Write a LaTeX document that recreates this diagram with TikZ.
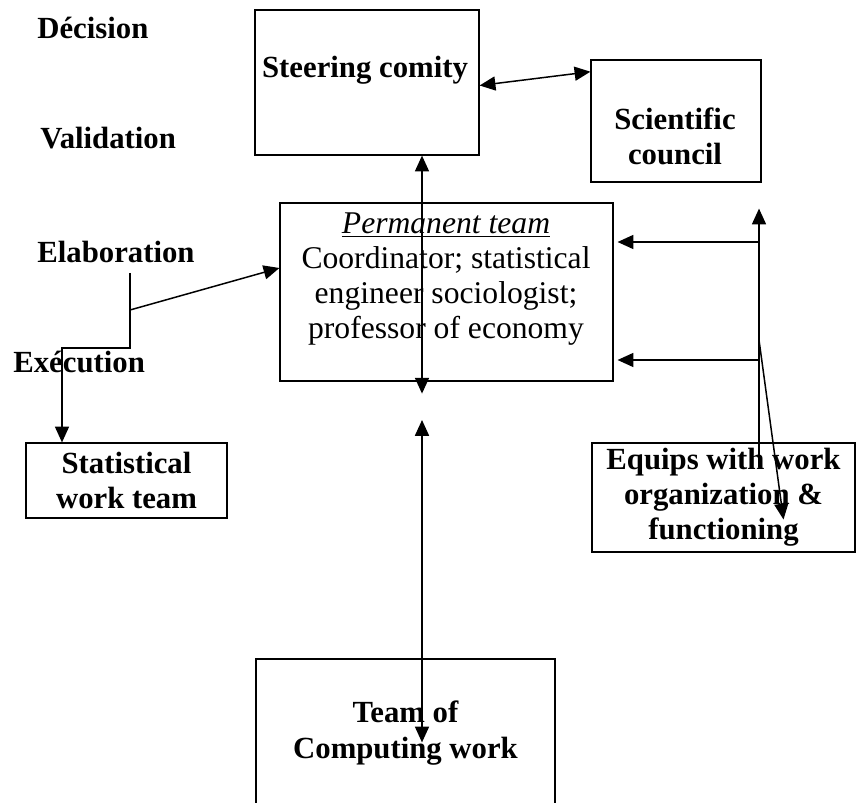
\documentclass[tikz,border=0pt]{standalone}
\usepackage{fontspec}
\setmainfont{Liberation Serif}
\usepackage{tikz}
\usetikzlibrary{arrows.meta}
\usetikzlibrary{calc}
\tikzstyle{every node}+=[inner sep=0pt]
\tikzstyle{block} = [rectangle, draw, line width=0.7pt]
\tikzstyle{btext} = [font=\fontsize{17.5}{20}\selectfont\bfseries, align=center]
\tikzstyle{ptext} = [font=\fontsize{18}{19.8}\selectfont, align=center]
\tikzstyle{phase} = [font=\fontsize{17.5}{20}\selectfont\bfseries, anchor=west]
\tikzstyle{line} = [draw, line width=0.85pt, -{Triangle[length=9pt,width=8pt]}]
\tikzstyle{dline} = [draw, line width=0.85pt, {Triangle[length=9pt,width=8pt]}-{Triangle[length=9pt,width=8pt]}]

\begin{document}
\begin{tikzpicture}[x=0.02cm, y=-0.02cm]
            \useasboundingbox (0,0) rectangle (857,803);
            % Place phases
            \node [phase] (dec) at (37,28) {Décision};
            \node [phase] (val) at (40,138) {Validation};
            \node [phase] (ela) at (37,252) {Elaboration};
            \node [phase] (exe) at (13,362) {Exécution};
            % Place nodes
            \node [block, minimum width=4.48cm, minimum height=2.9cm] (steer) at (367,82.5) {};
            \node [btext] (steert) at (365,70) {Steering comity};
            \node [block, minimum width=3.4cm, minimum height=2.44cm] (sci) at (676,121) {};
            \node [btext] (scit) at (675,136) {Scientific\\council};
            \node [block, minimum width=6.66cm, minimum height=3.56cm] (perm) at (446.5,292) {};
            \node [ptext] (permt) at (446,279) {\underline{\textit{Permanent team}}\\Coordinator; statistical\\engineer sociologist;\\professor of economy};
            \node [block, btext, minimum width=4.02cm, minimum height=1.5cm] (stat) at (126.5,480.5) {Statistical\\work team};
            \node [block, btext, minimum width=5.26cm, minimum height=2.18cm] (equ) at (723.5,497.5) {Equips with work\\organization \&\\functioning};
            \node [block, btext, minimum width=5.98cm, minimum height=2.96cm] (comp) at (405.5,733) {Team of\\Computing work};
            % Junctions
            \coordinate (axis) at (422,0);
            \coordinate (gap) at (422,420);
            \coordinate (spine) at (759,0);
            \coordinate (r1) at (759,242);
            \coordinate (r2) at (759,360);
            \coordinate (r3) at (759,340);
            \coordinate (top) at (130,273);
            \coordinate (fork) at (130,310);
            \coordinate (bend) at (130,348);
            % Draw edges
            \path [dline] ($(steer.east)+(0,3)$) -- ($(sci.north west)!0.1!(sci.south west)$);
            \path [dline] (steer.south -| axis) -- ($(perm.south -| axis)+(0,12)$);
            \path [dline] (gap) -- ($(comp.north -| axis)+(0,84)$);
            \path [line] (top) -- (bend) -| ($(stat.north)+(-64.5,0)$);
            \path [line] (fork) -- ($(perm.west)+(0,-24)$);
            \path [line] ($(equ.north -| spine)+(0,25)$) -- ($(sci.south -| spine)+(0,26)$);
            \path [line] (r1) -- ($(perm.east |- r1)+(4,0)$);
            \path [line] (r2) -- ($(perm.east |- r2)+(4,0)$);
            \path [line] (r3) -- ($(equ.center)+(60,22)$);
          \end{tikzpicture}
\end{document}
